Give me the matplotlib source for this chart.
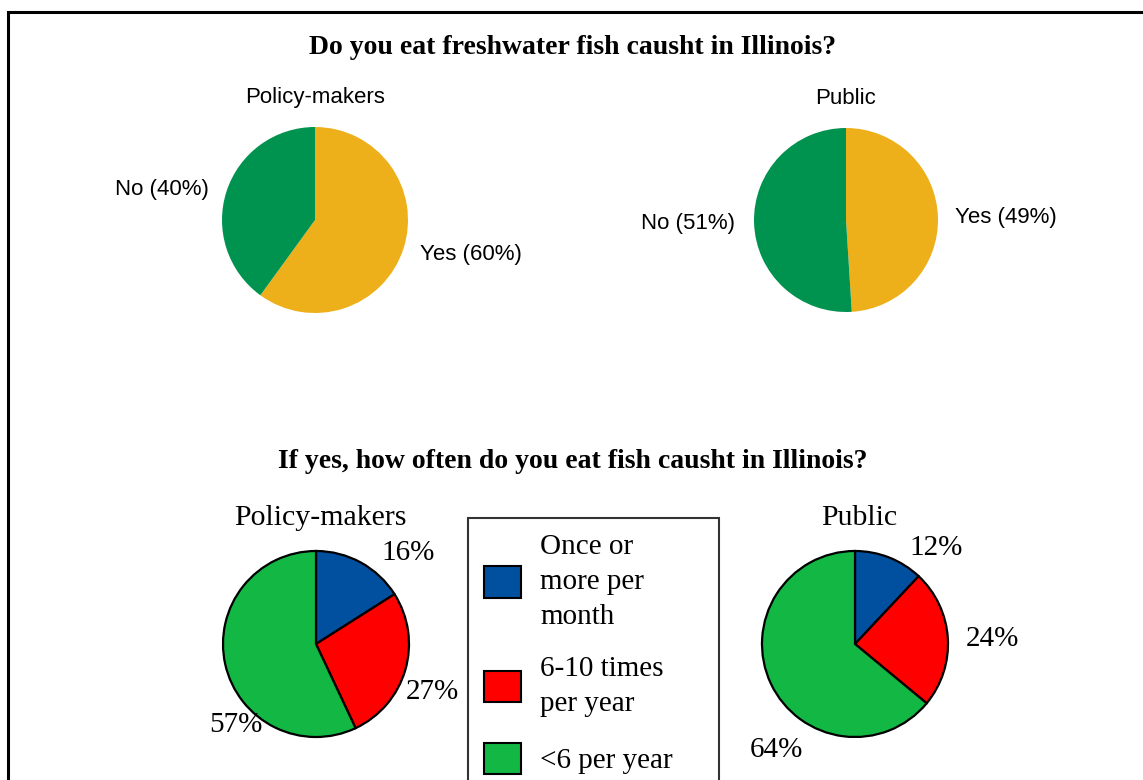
import matplotlib.pyplot as plt
from matplotlib.patches import Patch, Rectangle

W, H = 1143, 780

# top question: do you eat fish
eat_labels = ["Yes", "No"]
eat_policy = [60, 40]
eat_public = [49, 51]
eat_colors = ["#EDAF1A", "#00924F"]

# bottom question: how often
freq_labels = ["Once or\nmore per\nmonth", "6-10 times\nper year", "<6 per year"]
freq_policy = [16, 27, 57]
freq_public = [12, 24, 64]
freq_colors = ["#00509F", "#FF0000", "#12B843"]

serif = "Liberation Serif"
sans = "Liberation Sans"

fig = plt.figure(figsize=(W / 100, H / 100), dpi=100)


def pie_axes(cx, cy, r):
    ax = fig.add_axes([(cx - r) / W, 1 - (cy + r) / H, 2 * r / W, 2 * r / H])
    ax.axis("off")
    return ax


def fix_limits(ax):
    # pie() widens the limits to 1.25, pull them back so radius fills the axes
    ax.set_xlim(-1, 1)
    ax.set_ylim(-1, 1)
    ax.set_aspect("equal")


# border round the whole picture
fig.patches.append(Rectangle((7.5 / W, -0.1), 2, 1 - 12.5 / H + 0.1, transform=fig.transFigure,
                             fill=False, edgecolor="black", linewidth=2.2))

fig.text(573 / W, 1 - 47 / H, "Do you eat freshwater fish causht in Illinois?",
         ha="center", va="center", family=serif, weight="bold", fontsize=20)
fig.text(573 / W, 1 - 461 / H, "If yes, how often do you eat fish causht in Illinois?",
         ha="center", va="center", family=serif, weight="bold", fontsize=20)

# top pies
top = [
    (315, 220, 93, "Policy-makers", eat_policy, [(1.68, -0.37), (-1.65, 0.33)]),
    (846, 220, 92, "Public", eat_public, [(1.74, 0.03), (-1.72, -0.04)]),
]
for cx, cy, r, name, vals, pos in top:
    ax = pie_axes(cx, cy, r)
    ax.pie(vals, colors=eat_colors, startangle=90, counterclock=False, radius=1,
           wedgeprops=dict(linewidth=0))
    fix_limits(ax)
    ax.text(0, 1.32, name, ha="center", va="center", family=sans, fontsize=16)
    for lab, v, (x, y) in zip(eat_labels, vals, pos):
        ax.text(x, y, f"{lab} ({v}%)", ha="center", va="center", family=sans, fontsize=16)

# bottom pies
bottom = [
    (316, 644, 93, "Policy-makers", freq_policy, [(0.99, 0.98), (1.25, -0.52), (-0.86, -0.87)]),
    (855, 644, 93, "Public", freq_public, [(0.87, 1.03), (1.48, 0.05), (-0.85, -1.14)]),
]
for cx, cy, r, name, vals, pos in bottom:
    ax = pie_axes(cx, cy, r)
    ax.pie(vals, colors=freq_colors, startangle=90, counterclock=False, radius=1,
           wedgeprops=dict(linewidth=1.6, edgecolor="black"))
    fix_limits(ax)
    ax.text(0.05, 1.35, name, ha="center", va="center", family=serif, fontsize=21.5)
    for v, (x, y) in zip(vals, pos):
        ax.text(x, y, f"{v}%", ha="center", va="center", family=serif, fontsize=21)

handles = [Patch(facecolor=c, edgecolor="black", linewidth=1.5) for c in freq_colors]
leg = fig.legend(handles, freq_labels, loc="upper left",
                 bbox_to_anchor=(468 / W, 0, 251 / W, 1 - 518 / H), mode="expand",
                 prop=dict(family=serif, size=21), frameon=True, fancybox=False,
                 borderaxespad=0, borderpad=0.55, handlelength=1.28, handleheight=1.28,
                 handletextpad=0.65, labelspacing=0.9)
for t in leg.get_texts():
    t.set_linespacing(1.44)
leg.get_frame().set_edgecolor("black")
leg.get_frame().set_linewidth(1.5)

fig.savefig("out.png", dpi=100, facecolor="white")
